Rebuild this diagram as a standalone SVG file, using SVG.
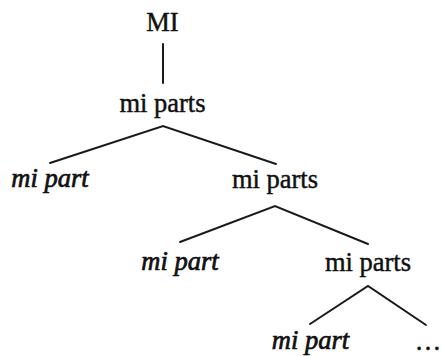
<svg xmlns="http://www.w3.org/2000/svg" width="441" height="356" viewBox="0 0 441 356">
  <style>
    .lbl { font-family: "Liberation Serif", "Times New Roman", serif; font-size: 26.5px; fill: #111; stroke: #111; stroke-width: 0.45; text-anchor: middle; }
    .it { font-style: italic; stroke-width: 0.7; }
    .edge { stroke: #1a1a1a; stroke-width: 2; fill: none; stroke-linecap: round; }
  </style>
  <rect width="441" height="356" fill="#fff"/>
  <g id="connectors">
    <line class="edge" x1="163" y1="44" x2="163" y2="83"/>
    <polyline class="edge" points="50,163 163,126 276,164"/>
    <polyline class="edge" points="180,242 275,206 368,244"/>
    <polyline class="edge" points="310,324 368,286 426,325"/>
  </g>
  <g id="n-mi"><text class="lbl" x="162.5" y="31">MI</text></g>
  <g id="n-parts1"><text class="lbl" x="162.5" y="112">mi parts</text></g>
  <g id="n-part1"><text class="lbl it" x="50" y="187">mi part</text></g>
  <g id="n-parts2"><text class="lbl" x="275" y="188">mi parts</text></g>
  <g id="n-part2"><text class="lbl it" x="180" y="270">mi part</text></g>
  <g id="n-parts3"><text class="lbl" x="368" y="271">mi parts</text></g>
  <g id="n-part3"><text class="lbl it" x="310.5" y="349">mi part</text></g>
  <g id="n-more"><text class="lbl" x="428" y="350">…</text></g>
</svg>
